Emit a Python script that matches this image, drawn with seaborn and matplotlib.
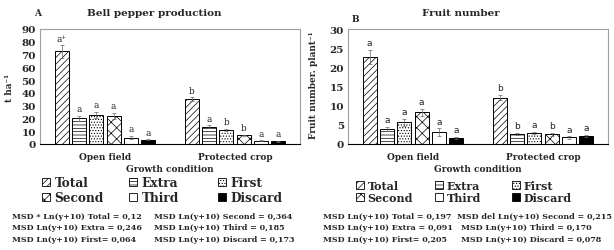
import numpy as np
import pandas as pd
import matplotlib
matplotlib.use("Agg")
import matplotlib.pyplot as plt
from matplotlib.patches import Patch
import seaborn as sns

conditions = ["Open field", "Protected crop"]
grades = ["Total", "Extra", "First", "Second", "Third", "Discard"]

yield_open = [72.4, 20.0, 22.6, 22.0, 4.9, 3.2]
yield_prot = [34.9, 13.5, 10.9, 6.8, 2.6, 2.1]
yield_err_open = [4.8, 2.0, 2.3, 2.2, 1.2, 0.4]
yield_err_prot = [1.6, 1.0, 1.0, 0.6, 0.3, 0.3]
yield_letters_open = ["a⁺", "a", "a", "a", "a", "a"]
yield_letters_prot = ["b", "a", "b", "b", "a", "a"]

fruit_open = [22.7, 3.9, 5.7, 8.3, 3.1, 1.6]
fruit_prot = [12.1, 2.6, 2.8, 2.5, 1.7, 2.1]
fruit_err_open = [1.8, 0.6, 0.9, 0.9, 1.0, 0.3]
fruit_err_prot = [0.7, 0.3, 0.3, 0.3, 0.3, 0.3]
fruit_letters_open = ["a", "a", "a", "a", "a", "a"]
fruit_letters_prot = ["b", "b", "a", "b", "a", "a"]

msd_yield_left = ["MSD * Ln(y+10) Total = 0,12",
                  "MSD Ln(y+10) Extra = 0,246",
                  "MSD Ln(y+10) First= 0,064"]
msd_yield_right = ["MSD Ln(y+10) Second = 0,364",
                   "MSD Ln(y+10) Third = 0,185",
                   "MSD Ln(y+10) Discard = 0,173"]
msd_fruit_left = ["MSD Ln(y+10) Total = 0,197",
                  "MSD Ln(y+10) Extra = 0,091",
                  "MSD Ln(y+10) First= 0,205"]
msd_fruit_right = ["MSD del Ln(y+10) Second = 0,215",
                   "MSD Ln(y+10) Third = 0,170",
                   "MSD Ln(y+10) Discard = 0,078"]

hatches = {"Total": "/////", "Extra": "-----", "First": "......",
           "Second": "xxx", "Third": "", "Discard": ""}
colors = {g: "white" for g in grades}
colors["Discard"] = "black"

sns.set_style("white")
plt.rcParams["font.family"] = ["DejaVu Serif"]
plt.rcParams["hatch.linewidth"] = 0.5

W, H = 614, 251
fig = plt.figure(figsize=(W / 100, H / 100), dpi=100)


def fx(px):
    return px / W


def fy(py):
    return 1 - py / H


def make_df(v_open, v_prot):
    rows = []
    for g, a, b in zip(grades, v_open, v_prot):
        rows.append({"condition": conditions[0], "grade": g, "value": a})
        rows.append({"condition": conditions[1], "grade": g, "value": b})
    return pd.DataFrame(rows)


def panel(left_px, v_open, v_prot, e_open, e_prot, l_open, l_prot, ymax, step, letter_font):
    ax = fig.add_axes([fx(left_px), fy(145), fx(260), fy(30) - fy(145)])
    df = make_df(v_open, v_prot)
    sns.barplot(data=df, x="condition", y="value", hue="grade", order=conditions,
                hue_order=grades, palette=colors, edgecolor="black", linewidth=0.7,
                errorbar=None, gap=0.2, width=0.8, legend=False, ax=ax)
    errs = [e_open, e_prot]
    lets = [l_open, l_prot]
    bar_sets = list(ax.containers)
    for gi, cont in enumerate(bar_sets):
        for ci, bar in enumerate(cont):
            bar.set_hatch(hatches[grades[gi]])
            xc = bar.get_x() + bar.get_width() / 2
            h = bar.get_height()
            e = errs[ci][gi]
            ax.errorbar(xc, h, yerr=[[e], [e]], fmt="none", ecolor="#666666",
                        elinewidth=0.5, capsize=1.5, capthick=0.5)
            ax.annotate(lets[ci][gi], (xc, h + e), xytext=(0, 2), textcoords="offset points",
                        ha="center", va="bottom", fontsize=6.5, family=letter_font)
    ax.set_xlim(-0.5, 1.5)
    ax.set_ylim(0, ymax)
    ax.set_yticks(np.arange(0, ymax + 1, step))
    ax.set_xlabel("")
    ax.set_ylabel("")
    ax.tick_params(axis="y", length=0, labelsize=7.5, pad=3)
    for t in ax.get_yticklabels():
        t.set_fontweight("bold")
    ax.tick_params(axis="x", which="major", length=0, labelsize=6.5, pad=6)
    for t in ax.get_xticklabels():
        t.set_fontweight("bold")
    ax.set_xticks([-0.5, 0.5, 1.5], minor=True)
    ax.tick_params(axis="x", which="minor", length=3, width=0.6, color="black", direction="out")
    for s in ["top", "right", "left"]:
        ax.spines[s].set_color("#a0a0a0")
        ax.spines[s].set_linewidth(0.8)
    ax.spines["bottom"].set_color("black")
    ax.spines["bottom"].set_linewidth(0.8)
    return ax


ax_a = panel(40, yield_open, yield_prot, yield_err_open, yield_err_prot,
             yield_letters_open, yield_letters_prot, 90, 10, "DejaVu Serif")
ax_b = panel(348, fruit_open, fruit_prot, fruit_err_open, fruit_err_prot,
             fruit_letters_open, fruit_letters_prot, 30, 5, "DejaVu Sans")

# titles and panel letters
fig.text(fx(154), fy(13), "Bell pepper production", ha="center", va="center",
         fontsize=7.5, fontweight="bold")
fig.text(fx(38), fy(14), "A", ha="center", va="center", fontsize=6.5, fontweight="bold")
fig.text(fx(461), fy(13), "Fruit number", ha="center", va="center",
         fontsize=7.5, fontweight="bold")
fig.text(fx(355), fy(20), "B", ha="center", va="center", fontsize=6.5, fontweight="bold")

# axis labels
fig.text(fx(9), fy(88), "t ha⁻¹", rotation=90, ha="center", va="center",
         fontsize=6.5, fontweight="bold")
fig.text(fx(313), fy(85), "Fruit number. plant⁻¹", rotation=90, ha="center", va="center",
         fontsize=6.5, fontweight="bold")
fig.text(fx(170), fy(170), "Growth condition", ha="center", va="center",
         fontsize=6.5, fontweight="bold")
fig.text(fx(478), fy(170), "Growth condition", ha="center", va="center",
         fontsize=6.5, fontweight="bold")

# legends: one small legend per column so each column sits where it should
legend_cols = [["Total", "Second"], ["Extra", "Third"], ["First", "Discard"]]
legend_layout = [((42, 129, 218), 177, 8.7, 0.2), ((356, 435, 512), 181, 8.0, 0.1)]
for xs, y0, size, lsp in legend_layout:
    for col, x0 in zip(legend_cols, xs):
        handles = [Patch(facecolor=colors[g], edgecolor="black", hatch=hatches[g],
                         linewidth=0.6, label=g) for g in col]
        fig.legend(handles=handles, loc="upper left", bbox_to_anchor=(fx(x0), fy(y0)),
                   ncol=1, frameon=False, prop={"weight": "bold", "size": size},
                   handlelength=0.7, handleheight=0.7, handletextpad=0.35,
                   labelspacing=lsp, borderpad=0, borderaxespad=0)

# MSD notes
msd_layout = [(msd_yield_left, msd_yield_right, 12, (154, 154, 154)),
              (msd_fruit_left, msd_fruit_right, 323, (457, 461, 461))]
for rows_l, rows_r, xl, xrs in msd_layout:
    for i, (tl, tr) in enumerate(zip(rows_l, rows_r)):
        yy = fy(217 + 11.3 * i)
        fig.text(fx(xl), yy, tl, ha="left", va="center", fontsize=5.8, fontweight="bold")
        fig.text(fx(xrs[i]), yy, tr, ha="left", va="center", fontsize=5.8, fontweight="bold")

fig.savefig("out.png", dpi=100)
